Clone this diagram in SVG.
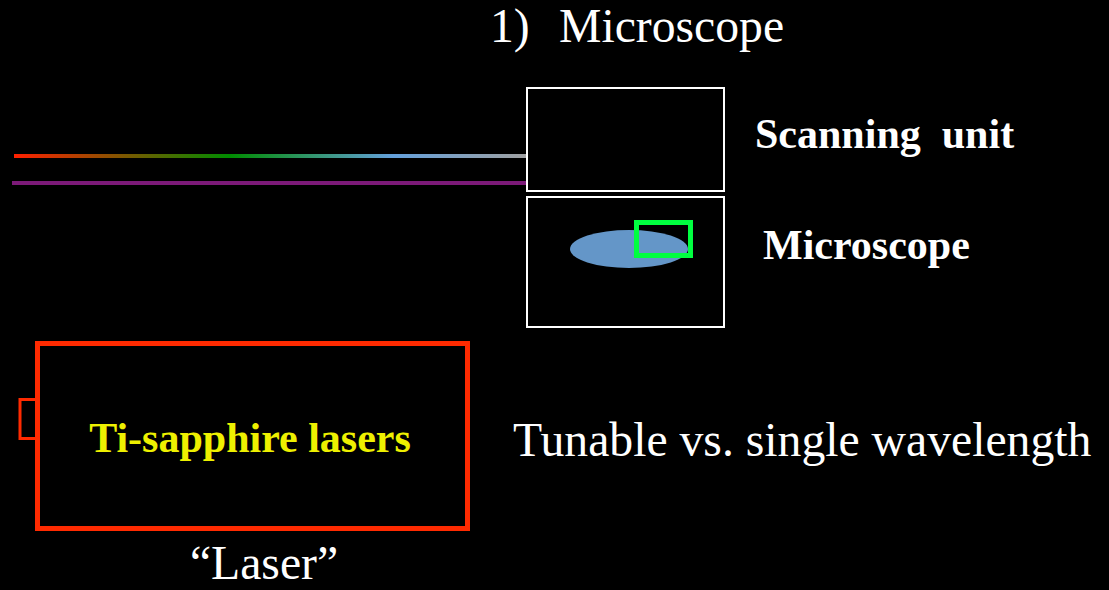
<svg xmlns="http://www.w3.org/2000/svg" width="1109" height="590" viewBox="0 0 1109 590">
  <style>
    .reg { font-family: "Liberation Serif", "Times New Roman", serif; fill: #ffffff; font-size: 47.7px; }
    .bold { font-family: "Liberation Serif", "Times New Roman", serif; font-weight: bold; font-size: 42px; }
    .box { fill: #000000; stroke: #ffffff; stroke-width: 2; }
  </style>
  <defs>
    <linearGradient id="spectrum" x1="14" y1="0" x2="527" y2="0" gradientUnits="userSpaceOnUse">
      <stop offset="0" stop-color="#ff2000"/>
      <stop offset="0.42" stop-color="#008c00"/>
      <stop offset="0.74" stop-color="#64a0dc"/>
      <stop offset="1" stop-color="#a0a0a0"/>
    </linearGradient>
  </defs>
  <rect x="0" y="0" width="1109" height="590" fill="#000000"/>

  <text class="reg" x="490" y="42">1)</text>
  <text class="reg" x="559" y="42">Microscope</text>

  <g id="connectors">
    <line x1="14" y1="156" x2="527" y2="156" stroke="url(#spectrum)" stroke-width="4"/>
    <line x1="12" y1="183" x2="529" y2="183" stroke="#7c1a78" stroke-width="4"/>
  </g>

  <g id="scanning-unit">
    <rect class="box" x="527" y="88" width="197" height="103"/>
    <text class="bold" x="755" y="148" fill="#ffffff" xml:space="preserve">Scanning  unit</text>
  </g>

  <g id="microscope">
    <rect class="box" x="527" y="197" width="197" height="130"/>
    <ellipse cx="629" cy="249" rx="59" ry="19" fill="#6496c8"/>
    <rect x="636.5" y="222.5" width="54" height="33" fill="none" stroke="#00ff40" stroke-width="5"/>
    <text class="bold" x="763" y="259" fill="#ffffff">Microscope</text>
  </g>

  <g id="laser">
    <rect x="20" y="399.5" width="17" height="39" fill="none" stroke="#ff2a00" stroke-width="3"/>
    <rect x="37.5" y="343.5" width="430" height="185" fill="#000000" stroke="#ff2a00" stroke-width="5"/>
    <text class="bold" x="250" y="452" text-anchor="middle" fill="#eef000">Ti-sapphire lasers</text>
    <text class="reg" x="264" y="579" text-anchor="middle">“Laser”</text>
  </g>

  <text class="reg" x="513" y="456">Tunable vs. single wavelength</text>
</svg>
